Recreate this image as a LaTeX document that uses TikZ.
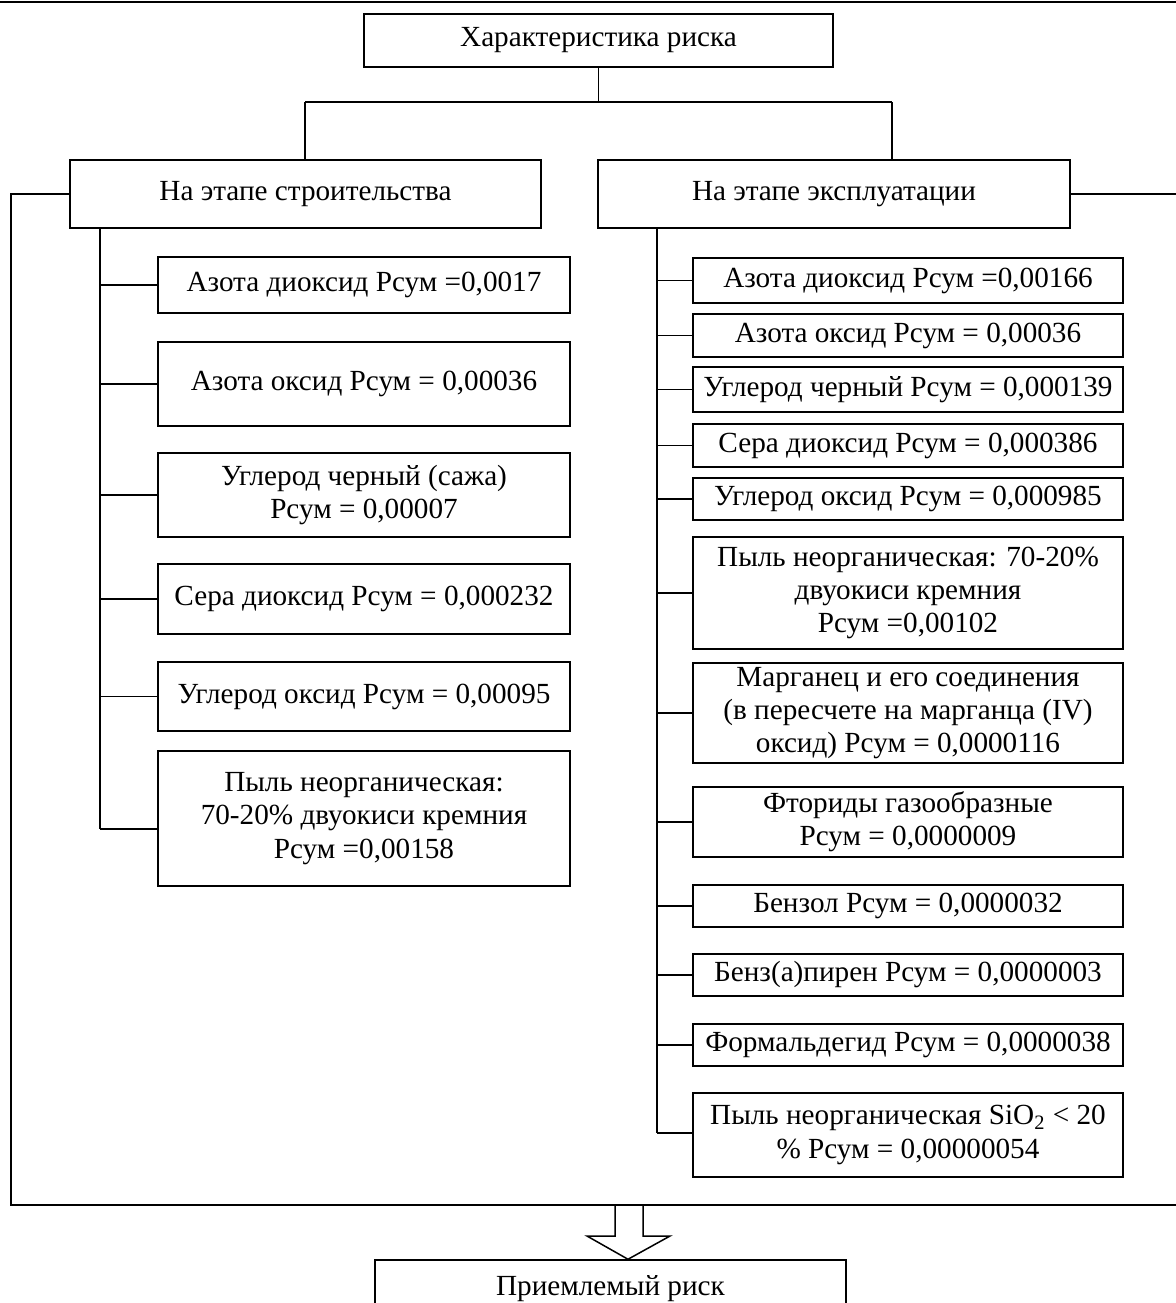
\documentclass[tikz,border=0pt]{standalone}
\usepackage{fontspec}
\setmainfont{Liberation Serif}
\tikzset{
  box/.style={draw, line width=0.75pt, inner sep=0pt, align=center, font=\fontsize{14.6}{16.6}\selectfont},
  ln/.style={line width=0.75pt},
}
\newcommand{\mybox}[6]{\node[box, minimum width={(#4-#2)*0.5pt}, minimum height={(#5-#3)*0.5pt}] (#1) at ({(#2+#4)/2},{(#3+#5)/2}) {#6};}
\begin{document}
\begin{tikzpicture}[x=0.5pt, y=-0.5pt]
\useasboundingbox (0,0) rectangle (1176,1303);
\begin{scope}
\clip (0,0) rectangle (1176,1303);
% top rule
\coordinate (tl) at (0,2);
\coordinate (tr) at (1176,2);
\draw[line width=1.1pt] (tl) -- (tr);
% top
\mybox{T}{364}{14}{833}{67}{Характеристика риска}
\mybox{L}{70}{160}{541}{228}{На этапе строительства}
\mybox{R}{598}{160}{1070}{228}{На этапе эксплуатации}
\coordinate (bl) at (305,102);
\coordinate (br) at (892,102);
\draw[ln] (T.south) -- (T.south |- bl);
\draw[ln] (bl) -- (br);
\draw[ln] (bl) -- (L.north -| bl);
\draw[ln] (br) -- (R.north -| br);
% left column
\mybox{L1}{158}{257}{570}{313}{Азота диоксид Рсум =0,0017}
\mybox{L2}{158}{342}{570}{426}{Азота оксид Рсум = 0,00036}
\mybox{L3}{158}{453}{570}{537}{Углерод черный (сажа)\\Рсум = 0,00007}
\mybox{L4}{158}{564}{570}{634}{Сера диоксид Рсум = 0,000232}
\mybox{L5}{158}{662}{570}{731}{Углерод оксид Рсум = 0,00095}
\mybox{L6}{158}{751}{570}{886}{Пыль неорганическая:\\70-20\% двуокиси кремния\\Рсум =0,00158}
\coordinate (ltop) at (100,228);
\coordinate (lbot) at (100,829);
\draw[ln] (ltop) -- (lbot);
\foreach \n in {L1,L2,L3,L4,L5}{\draw[ln] (\n.west -| ltop) -- (\n.west);}
\draw[ln] (lbot) -- (lbot -| L6.west);
% right column
\mybox{R1}{693}{258}{1123}{303}{Азота диоксид Рсум =0,00166}
\mybox{R2}{693}{314}{1123}{357}{Азота оксид Рсум = 0,00036}
\mybox{R3}{693}{367}{1123}{412}{Углерод черный Рсум = 0,000139}
\mybox{R4}{693}{424}{1123}{467}{Сера диоксид Рсум = 0,000386}
\mybox{R5}{693}{478}{1123}{520}{Углерод оксид Рсум = 0,000985}
\mybox{R6}{693}{537}{1123}{649}{Пыль неорганическая: 70-20\%\\двуокиси кремния\\Рсум =0,00102}
\mybox{R7}{693}{663}{1123}{763}{Марганец и его соединения\\(в пересчете на марганца (IV)\\оксид) Рсум = 0,0000116}
\mybox{R8}{693}{787}{1123}{857}{Фториды газообразные\\Рсум = 0,0000009}
\mybox{R9}{693}{885}{1123}{927}{Бензол Рсум = 0,0000032}
\mybox{R10}{693}{954}{1123}{996}{Бенз(а)пирен Рсум = 0,0000003}
\mybox{R11}{693}{1024}{1123}{1066}{Формальдегид Рсум = 0,0000038}
\mybox{R12}{693}{1093}{1123}{1177}{Пыль неорганическая SiO\textsubscript{2} < 20\\\% Рсум = 0,00000054}
\coordinate (rtop) at (657,228);
\coordinate (rbot) at (657,1133);
\draw[ln] (rtop) -- (rbot);
\foreach \n in {R1,R2,R3,R4,R5,R6,R7,R8,R9,R10,R11}{\draw[ln] (\n.west -| rtop) -- (\n.west);}
\draw[ln] (rbot) -- (rbot -| R12.west);
% outer frame
\coordinate (fl) at (11,1205);
\coordinate (fr) at (1176,1205);
\draw[ln] (L.west) -- (L.west -| fl) -- (fl) -- (fr);
\draw[ln] (R.east) -- (R.east -| fr);
% hollow arrow and result
\mybox{B}{375}{1260}{846}{1318}{Приемлемый риск}
\draw[ln, line join=miter] (615,1205) -- (615,1236) -- (587,1236) -- (B.north -| 628,0) -- (670,1236) -- (643,1236) -- (643,1205);
\end{scope}
\end{tikzpicture}
\end{document}
